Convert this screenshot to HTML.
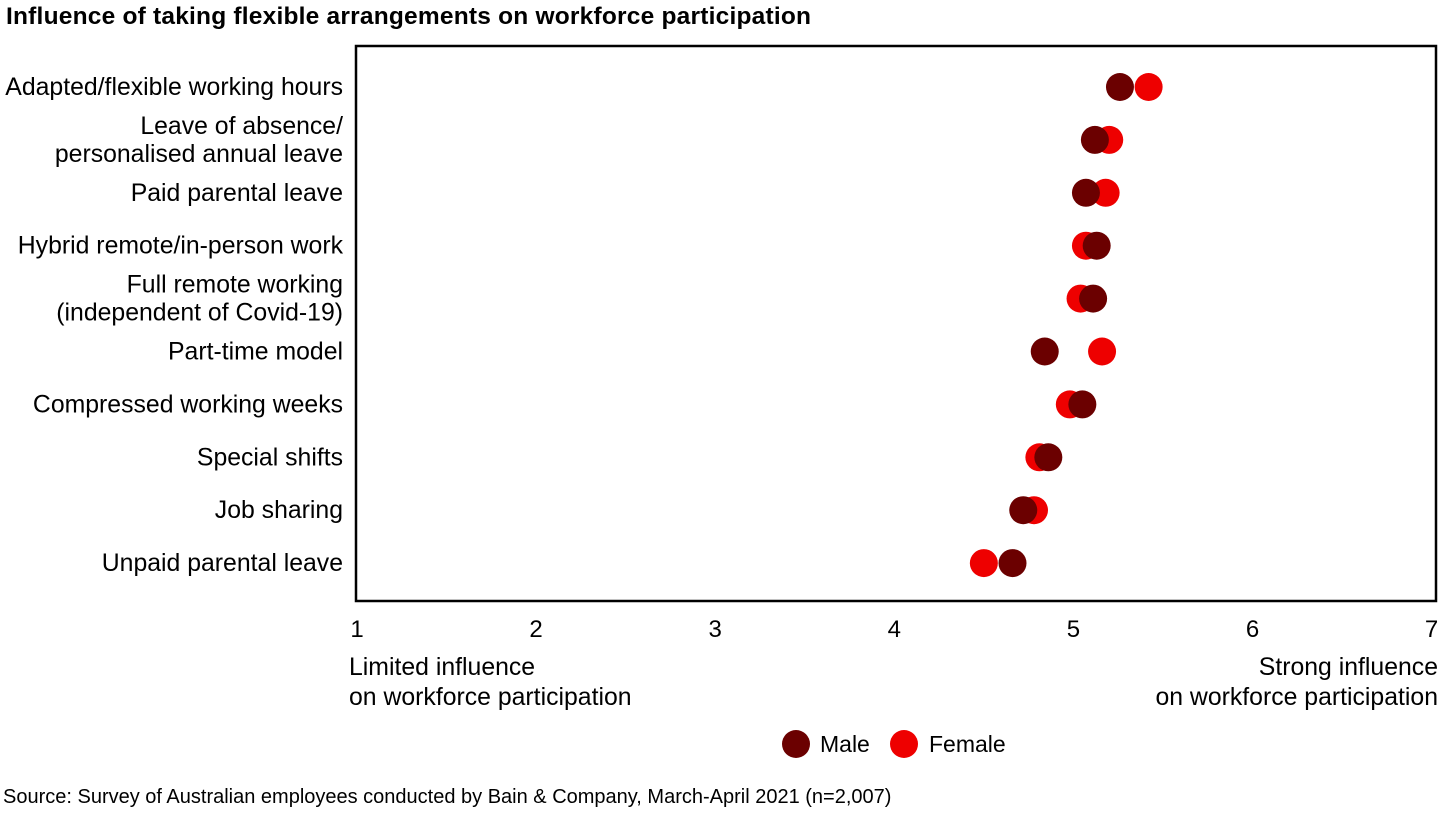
<!DOCTYPE html>
<html><head><meta charset="utf-8"><style>
body{margin:0;background:#fff;width:1440px;height:810px;overflow:hidden;font-family:"Liberation Sans",Arial,sans-serif}
svg text{font-family:"Liberation Sans",Arial,sans-serif;fill:#000}
</style></head><body>
<svg id="chart" width="1440" height="810" viewBox="0 0 1440 810">
<text x="6" y="24" font-size="24.5" font-weight="bold" textLength="805">Influence of taking flexible arrangements on workforce participation</text>
<rect x="356" y="46" width="1080" height="555" fill="none" stroke="#000" stroke-width="2.5"/>
<g id="cats"></g><g id="ticks"></g><g id="dots"></g>
<text x="349" y="675" font-size="24.8">Limited influence</text>
<text x="349" y="705" font-size="24.8">on workforce participation</text>
<text x="1438" y="675" font-size="24.8" text-anchor="end">Strong influence</text>
<text x="1438" y="705" font-size="24.8" text-anchor="end">on workforce participation</text>
<g>
<circle cx="796" cy="744" r="14" fill="#6b0000"/>
<text x="820" y="752" font-size="23">Male</text>
<circle cx="904" cy="744" r="14" fill="#ee0000"/>
<text x="929" y="752" font-size="23">Female</text>
</g>
<text x="3" y="803" font-size="20">Source: Survey of Australian employees conducted by Bain &amp; Company, March-April 2021 (n=2,007)</text>
</svg>
<script>
const categories=[["Adapted/flexible working hours"],["Leave of absence/","personalised annual leave"],["Paid parental leave"],["Hybrid remote/in-person work"],["Full remote working","(independent of Covid-19)"],["Part-time model"],["Compressed working weeks"],["Special shifts"],["Job sharing"],["Unpaid parental leave"]];
const maleValues=[5.26,5.12,5.07,5.13,5.11,4.84,5.05,4.86,4.72,4.66];
const femaleValues=[5.42,5.20,5.18,5.07,5.04,5.16,4.98,4.81,4.78,4.50];
const tickValues=[1,2,3,4,5,6,7];
const NS="http://www.w3.org/2000/svg";
function xs(v){return 357+(v-1)*179.1;}
function ys(i){return 87+i*52.9;}
function mk(t,a,p){const e=document.createElementNS(NS,t);for(const k in a)e.setAttribute(k,a[k]);p.appendChild(e);return e;}
const cg=document.getElementById('cats'),tg=document.getElementById('ticks'),dg=document.getElementById('dots');
categories.forEach((lines,i)=>{
  const y=ys(i);
  lines.forEach((l,j)=>{
    const ty=lines.length===1?y+8:y-6+j*28;
    const t=mk('text',{x:343,y:ty,'font-size':24.8,'text-anchor':'end'},cg);
    
    
    t.textContent=l;
  });
});
tickValues.forEach(v=>{
  const t=mk('text',{x:xs(v),y:637,'font-size':24,'text-anchor':'middle'},tg);
  
  
  t.textContent=v;
});
categories.forEach((c,i)=>{
  const f=mk('circle',{cx:xs(femaleValues[i]),cy:ys(i),r:14,fill:'#ee0000'},dg);
  
  
  const m=mk('circle',{cx:xs(maleValues[i]),cy:ys(i),r:14,fill:'#6b0000'},dg);
  
  
});
</script>
</body></html>
